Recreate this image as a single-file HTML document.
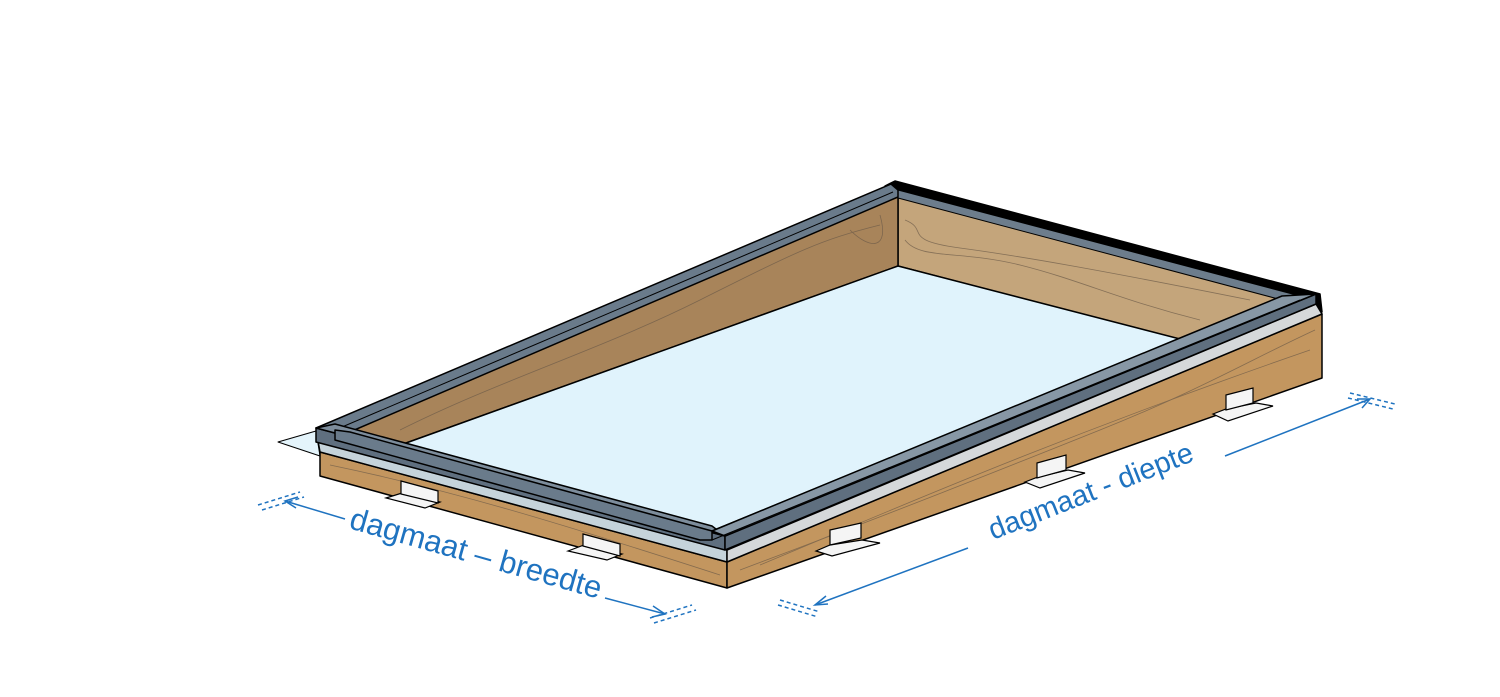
<!DOCTYPE html>
<html><head><meta charset="utf-8"><style>html,body{margin:0;padding:0;background:#fff}svg{display:block}</style></head>
<body>
<svg width="1500" height="697" viewBox="0 0 1500 697" xmlns="http://www.w3.org/2000/svg" font-family="Liberation Sans, sans-serif">
<g stroke="#000" stroke-width="1.5" stroke-linejoin="round">
<polygon points="278,442 316,431 320,456" fill="#e4f4fb" stroke-width="1"/>
<polygon points="885,186 895,181 1320,294 1322,312 1300,300 898,195" fill="#000"/>
<polygon points="898,196 1280,297 1180,340 898,266" fill="#c4a57b"/>
<polygon points="340,432 898,196 898,266 395,447" fill="#a8845a"/>
<polygon points="898,266 1180,339 712,531 395,447" fill="#e0f3fc"/>
<polygon points="898,190 1300,296 1282,300 898,198" fill="#6d7d8c" stroke-width="1"/>
<polygon points="316,428 891,184 898,190 898,197 345,434 335,440" fill="#6a7b8b"/>
<polyline points="335,430 893,192" fill="none" stroke-width="1"/>
<polygon points="320,452 727,562 727,588 320,476" fill="#c3965f"/>
<polygon points="727,562 1322,314 1322,378 727,588" fill="#c3965f"/>
<polygon points="318,441 727,550 727,562 320,452" fill="#c5d3da"/>
<polygon points="727,550 1316,304 1322,314 727,562" fill="#d5d8da"/>
<polygon points="316,428 725,536 725,550 316,442" fill="#5f6f7f"/>
<polygon points="725,536 1316,294 1316,304 725,550" fill="#5f6f7f"/>
<polygon points="316,428 335,424 712,526 725,536" fill="#7d8d9c"/>
<polygon points="335,430 350,432 712,531 712,540 700,540 335,440" fill="#6a7b8b"/>
<polygon points="712,531 1180,338 1282,296 1316,294 725,536" fill="#8797a5"/>
<polyline points="712,540 1300,300" fill="none" stroke-width="1"/>
</g>
<g fill="none" stroke="#6b5a48" stroke-width="0.8" opacity="0.7">
<path d="M905,220 C930,230 900,240 960,248 S1100,270 1250,300"/>
<path d="M905,240 C920,260 960,250 1020,265 S1120,300 1200,320"/>
<path d="M400,430 C500,380 600,350 700,300 S820,240 880,225"/>
<path d="M850,230 C870,250 890,250 880,215"/>
<path d="M330,465 C450,490 550,520 720,575"/>
<path d="M740,570 C900,510 1000,470 1100,430 S1250,360 1315,330"/>
<path d="M760,565 C880,515 1050,440 1310,350"/>
</g>
<g stroke="#000" stroke-width="1.2" fill="#f5f5f5">
<polygon points="386,498 402,493 440,502 425,508"/><polygon points="401,481 438,491 438,503 401,494"/>
<polygon points="568,551 584,545 622,554 607,560"/><polygon points="583,534 620,544 620,556 583,546"/>
<polygon points="816,551 830,545 862,540 880,543 832,556"/><polygon points="830,530 861,523 861,538 830,545"/>
<polygon points="1025,482 1038,477 1068,470 1085,473 1040,488"/><polygon points="1037,463 1066,455 1066,470 1037,478"/>
<polygon points="1213,414 1226,409 1256,403 1273,406 1228,421"/><polygon points="1226,395 1253,388 1253,403 1226,410"/>
</g>
<g stroke="#1f73c0" stroke-width="1.5" fill="none">
<line x1="285" y1="501" x2="345" y2="519"/><polyline points="298,497 285,501 296,508"/>
<line x1="258" y1="505" x2="300" y2="492" stroke-dasharray="4,3"/><line x1="262" y1="510" x2="304" y2="497" stroke-dasharray="4,3"/>
<line x1="605" y1="598" x2="665" y2="614"/><polyline points="653,606 665,614 652,617"/>
<line x1="650" y1="618" x2="692" y2="605" stroke-dasharray="4,3"/><line x1="654" y1="623" x2="696" y2="610" stroke-dasharray="4,3"/>
<line x1="815" y1="605" x2="968" y2="548"/><polyline points="826,596 815,605 828,604"/>
<line x1="780" y1="600" x2="820" y2="612" stroke-dasharray="4,3"/><line x1="778" y1="605" x2="818" y2="617" stroke-dasharray="4,3"/>
<line x1="1225" y1="456" x2="1370" y2="399"/><polyline points="1357,399 1370,399 1362,408"/>
<line x1="1350" y1="393" x2="1395" y2="404" stroke-dasharray="4,3"/><line x1="1348" y1="398" x2="1393" y2="409" stroke-dasharray="4,3"/>
</g>
<text x="0" y="0" font-size="31" fill="#1f73c0" transform="translate(348,528) rotate(15.8)">dagmaat – breedte</text>
<text x="0" y="0" font-size="29" fill="#1f73c0" transform="translate(993,540) rotate(-21.5)">dagmaat - diepte</text>
</svg>
</body></html>
